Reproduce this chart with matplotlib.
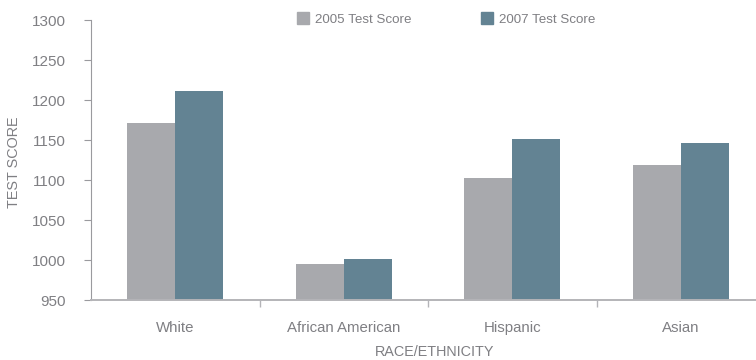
import matplotlib
matplotlib.use("Agg")
from matplotlib import pyplot as plt
from matplotlib.patches import Patch
from matplotlib.ticker import FixedLocator
import numpy as np

categories = ["White", "African American", "Hispanic", "Asian"]
scores_2005 = [1171, 995, 1102, 1119]
scores_2007 = [1211, 1001, 1151, 1146]
series_labels = ["2005 Test Score", "2007 Test Score"]
y_ticks = [950, 1000, 1050, 1100, 1150, 1200, 1250, 1300]

gray = "#a8a9ad"
blue = "#638393"
text_color = "#7f7f83"

plt.rcParams["font.family"] = ["Liberation Sans", "DejaVu Sans"]

fig = plt.figure(figsize=(7.56, 3.6), dpi=100)
ax = fig.add_axes([91 / 756, 60 / 360, 674 / 756, 280 / 360])

x = np.arange(len(categories))
w = 0.285
ax.bar(x - w / 2, scores_2005, width=w, color=gray)
ax.bar(x + w / 2, scores_2007, width=w, color=blue)

ax.set_xlim(-0.5, len(categories) - 0.5)
ax.set_ylim(950, 1300)
ax.set_yticks(y_ticks)
ax.set_xticks(x)
ax.set_xticklabels(categories)
ax.xaxis.set_minor_locator(FixedLocator(x[:-1] + 0.5))

for s in ["top", "right"]:
    ax.spines[s].set_visible(False)
ax.spines["left"].set_color("#9a9a9e")
ax.spines["left"].set_linewidth(0.8)
ax.spines["bottom"].set_color("#b4b4b8")
ax.spines["bottom"].set_linewidth(1.4)

ax.tick_params(axis="y", length=5, width=0.8, color="#9a9a9e",
               labelsize=11, labelcolor=text_color, pad=13)
ax.tick_params(axis="x", which="major", length=0, labelsize=10.8,
               labelcolor=text_color, pad=15)
ax.tick_params(axis="x", which="minor", length=5, width=1, color="#b4b4b8")

# axis titles placed by hand
fig.text(14 / 756, 1 - 162 / 360, "TEST SCORE", fontsize=10.4,
         color=text_color, ha="center", va="center", rotation=90)
fig.text(435 / 756, 1 - 352 / 360, "RACE/ETHNICITY", fontsize=10.4,
         color=text_color, ha="center", va="center")

handles = [Patch(color=gray), Patch(color=blue)]
fig.legend(handles, series_labels, loc="center left",
           bbox_to_anchor=(297 / 756, 1 - 19 / 360), ncol=2, frameon=False,
           handlelength=0.9, handleheight=0.9, handletextpad=0.45,
           columnspacing=5.2, fontsize=9.6, labelcolor=text_color,
           borderaxespad=0, borderpad=0)

fig.savefig("out.png", dpi=100)
